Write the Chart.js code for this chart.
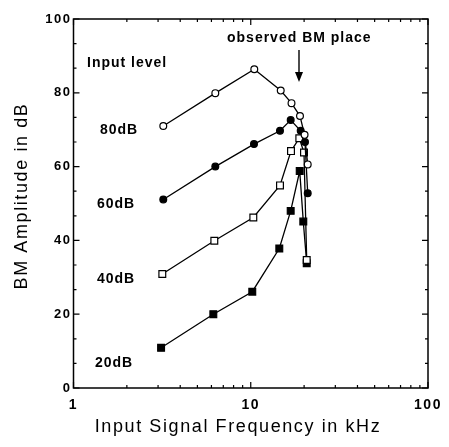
<!DOCTYPE html>
<html>
<head>
<meta charset="utf-8">
<script src="https://cdn.jsdelivr.net/npm/chart.js@4.4.1/dist/chart.umd.min.js"></script>
<style>
html,body{margin:0;padding:0;background:#fff;}
#wrap{width:449px;height:447px;position:relative;}
</style>
</head>
<body>
<div id="wrap"><canvas id="c"></canvas></div>
<script>
// ---- data ----
const seriesNames = ['80dB', '60dB', '40dB', '20dB'];
const freq80 = [3.21, 6.31, 10.47, 14.76, 16.98, 18.96, 20.12, 20.96];
const amp80  = [71.0, 79.9, 86.4, 80.6, 77.2, 73.7, 68.6, 60.6];
const freq60 = [3.21, 6.31, 10.43, 14.62, 16.80, 19.13, 20.23, 20.96];
const amp60  = [51.1, 60.0, 66.1, 69.7, 72.6, 69.7, 66.7, 52.8];
const freq40 = [3.17, 6.23, 10.34, 14.62, 16.87, 18.79, 19.97, 20.69];
const amp40  = [30.9, 39.9, 46.2, 54.9, 64.2, 67.7, 63.8, 34.7];
const freq20 = [3.12, 6.15, 10.2, 14.49, 16.80, 18.89, 19.79, 20.69];
const amp20  = [10.9, 20.0, 26.1, 37.8, 48.0, 58.8, 45.1, 33.8];
const xTickLabels = [1, 10, 100];
const yTickValues = [0, 20, 40, 60, 80, 100];
const xTitle = 'Input Signal Frequency in kHz';
const yTitle = 'BM Amplitude in dB';
const legendTitle = 'Input level';
const arrowLabel = 'observed BM place';

const FONT = '"Liberation Sans", Arial, Helvetica, sans-serif';

function pts(xs, ys) { return xs.map((x, i) => ({ x: x, y: ys[i] })); }

function ds(label, xs, ys, style, filled) {
  return {
    label: label,
    data: pts(xs, ys),
    borderColor: '#000',
    borderWidth: 1.3,
    tension: 0,
    pointStyle: style,
    pointRadius: style === 'rect' ? 4.8 : 3.4,
    pointBorderWidth: 1.2,
    pointBorderColor: '#000',
    pointBackgroundColor: filled ? '#000' : '#fff',
    fill: false
  };
}

const decor = {
  id: 'decor',
  beforeDraw(chart) {
    chart.ctx.letterSpacing = '1.5px';
  },
  afterDraw(chart) {
    const ctx = chart.ctx;
    const a = chart.chartArea;
    const xs = chart.scales.x, ys = chart.scales.y;
    ctx.save();
    ctx.strokeStyle = '#000';
    ctx.fillStyle = '#000';
    // frame
    ctx.lineWidth = 1.5;
    ctx.strokeRect(a.left, a.top, a.right - a.left, a.bottom - a.top);
    // tick marks (inward, all sides)
    ctx.lineWidth = 1.2;
    ctx.beginPath();
    for (let k = 0; k <= 15; k++) {
      const v = k * 20 / 3;
      const major = k % 3 === 0;
      const len = major ? 6 : 3;
      const py = ys.getPixelForValue(v);
      ctx.moveTo(a.left, py); ctx.lineTo(a.left + len, py);
      ctx.moveTo(a.right, py); ctx.lineTo(a.right - len, py);
    }
    for (let d = 1; d <= 10; d *= 10) {
      for (let m = 1; m <= 10; m++) {
        const v = d * m;
        if (v > 100) continue;
        const major = (m === 1 || m === 10);
        const len = major ? 6 : 3;
        const px = xs.getPixelForValue(v);
        ctx.moveTo(px, a.bottom); ctx.lineTo(px, a.bottom - len);
        ctx.moveTo(px, a.top); ctx.lineTo(px, a.top + len);
      }
    }
    ctx.stroke();

    // axis titles
    ctx.letterSpacing = '1.6px';
    ctx.font = '18px ' + FONT;
    ctx.textAlign = 'center';
    ctx.textBaseline = 'alphabetic';
    ctx.fillText(xTitle, 238, 432);
    ctx.save();
    ctx.translate(27, 196);
    ctx.rotate(-Math.PI / 2);
    ctx.fillText(yTitle, 0, 0);
    ctx.restore();

    // annotations
    ctx.letterSpacing = '1px';
    ctx.font = 'bold 14px ' + FONT;
    ctx.textAlign = 'left';
    ctx.fillText(legendTitle, 87, 67);
    ctx.fillText(arrowLabel, 227, 42);
    const labelPos = [[100, 134], [97, 208], [97, 283], [95, 367]];
    seriesNames.forEach((n, i) => ctx.fillText(n, labelPos[i][0], labelPos[i][1]));

    // arrow
    ctx.lineWidth = 1.4;
    ctx.beginPath();
    ctx.moveTo(299, 50); ctx.lineTo(299, 76);
    ctx.stroke();
    ctx.beginPath();
    ctx.moveTo(299, 82); ctx.lineTo(295, 72); ctx.lineTo(303, 72); ctx.closePath();
    ctx.fill();
    ctx.restore();
  }
};

new Chart(document.getElementById('c'), {
  type: 'line',
  data: {
    datasets: [
      ds(seriesNames[0], freq80, amp80, 'circle', false),
      ds(seriesNames[1], freq60, amp60, 'circle', true),
      ds(seriesNames[2], freq40, amp40, 'rect', false),
      ds(seriesNames[3], freq20, amp20, 'rect', true)
    ]
  },
  options: {
    responsive: true,
    maintainAspectRatio: false,
    animation: false,
    layout: { padding: { top: 19, right: 21, left: 0, bottom: 0 } },
    plugins: { legend: { display: false }, tooltip: { enabled: false } },
    scales: {
      x: {
        type: 'logarithmic',
        min: 1, max: 100,
        grid: { display: false, drawTicks: false },
        border: { display: false },
        afterFit(s) { s.height = 59; },
        afterBuildTicks(s) { s.ticks = xTickLabels.map(v => ({ value: v })); },
        ticks: {
          autoSkip: false, maxRotation: 0, padding: 9,
          color: '#000',
          font: { family: FONT, size: 14, weight: 'bold' },
          callback: (v) => String(v)
        }
      },
      y: {
        min: 0, max: 100,
        grid: { display: false, drawTicks: false },
        border: { display: false },
        afterFit(s) { s.width = 73.5; },
        afterBuildTicks(s) { s.ticks = yTickValues.map(v => ({ value: v })); },
        ticks: {
          padding: 2,
          color: '#000',
          font: { family: FONT, size: 13, weight: 'bold' }
        }
      }
    }
  },
  plugins: [decor]
});
</script>
</body>
</html>
